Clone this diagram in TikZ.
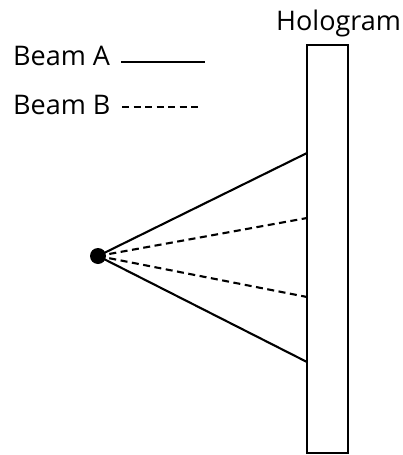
\documentclass[tikz,border=0pt]{standalone}
\usepackage{fontspec}
\setmainfont{Open Sans}
\begin{document}
\begin{tikzpicture}[x=1pt,y=-1pt,
  beam/.style={line width=2.1pt},
  beamb/.style={line width=2.1pt, dash pattern=on 7pt off 4.5pt},
  lbl/.style={font=\fontsize{27}{30}\selectfont, inner sep=0pt},
  plate/.style={draw, line width=2.1pt}]
\useasboundingbox (0,0) rectangle (402,455);
\node[plate, minimum width=41pt, minimum height=408pt, inner sep=0pt] (holo) at (327.5,249) {};
\node[lbl, anchor=base west] (holotxt) at (276,30) {Hologram};
\node[lbl, anchor=base west] (ba) at (13,65) {Beam A};
\node[lbl, anchor=base west] (bb) at (13,114) {Beam B};
\coordinate (ba1) at (121,62);
\coordinate (ba2) at (205,62);
\coordinate (bb1) at (122,107);
\coordinate (bb2) at (200,107);
\draw[beam] (ba1) -- (ba2);
\draw[beamb] (bb1) -- (bb2);
\node[circle, fill=black, minimum size=16pt, inner sep=0pt] (src) at (98,256) {};
\coordinate (s1) at (307,153);
\coordinate (s2) at (307,362);
\coordinate (d1) at (307,218);
\coordinate (d2) at (307,297);
\draw[beam] (src.center) -- (s1);
\draw[beam] (src.center) -- (s2);
\draw[beamb] (src.center) -- (d1);
\draw[beamb] (src.center) -- (d2);
\end{tikzpicture}
\end{document}
